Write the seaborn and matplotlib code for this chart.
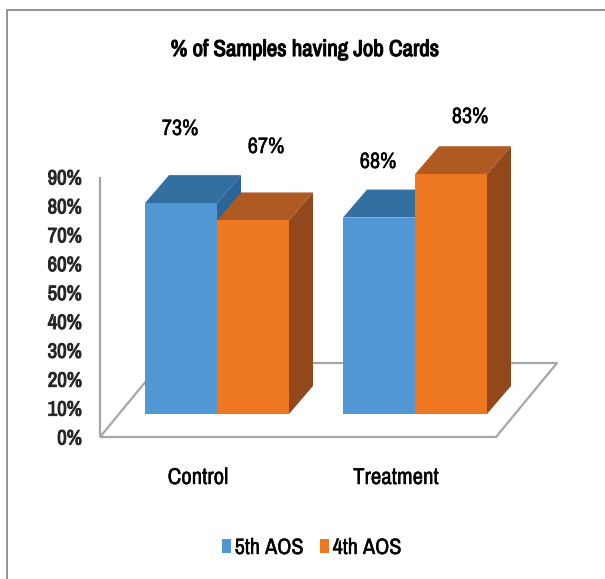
import matplotlib
matplotlib.use("Agg")
import matplotlib.pyplot as plt
import matplotlib.patheffects as pe
from matplotlib.patches import Polygon, Rectangle
from matplotlib.lines import Line2D
import pandas as pd
import seaborn as sns

groups = ["Control", "Treatment"]
series_names = ["5th AOS", "4th AOS"]
fifth_aos = [73, 68]
fourth_aos = [67, 83]
y_ticks = [0, 10, 20, 30, 40, 50, 60, 70, 80, 90]

front_colors = {"5th AOS": "#5197d3", "4th AOS": "#ee7721"}
top_colors = {"5th AOS": "#336f9f", "4th AOS": "#ae5a22"}
side_colors = {"5th AOS": "#2a6596", "4th AOS": "#93481c"}

W, H = 605, 579
sns.set_theme(style="white")
plt.rcParams["font.family"] = ["Archivo Narrow", "Liberation Sans", "DejaVu Sans"]


def weight(width, color="black"):
    """Outline that thickens the single-weight narrow face."""
    return [pe.withStroke(linewidth=width, foreground=color)]


table = pd.DataFrame({
    "group": groups * 2,
    "series": [series_names[0]] * 2 + [series_names[1]] * 2,
    "value": fifth_aos + fourth_aos,
})

fig = plt.figure(figsize=(W / 100, H / 100), dpi=100, facecolor="white")

# Plot area: the 0-90 % wall spans 260 px, one category spans 198 px
px_per_pct = 260 / 90
px_per_cat = 198
x0_px = 217
left_px = 100
right_px = 560
ax = fig.add_axes([left_px / W, 1 - 437 / H, (right_px - left_px) / W, 260 / H])
ax.patch.set_alpha(0)
ax.set_zorder(2)

# The floor sits 8 % in front of the wall, so bars start above the zero tick
lift = 23 / px_per_pct
depth_x = 24 / px_per_cat
depth_y = 28 / px_per_pct

sns.barplot(
    data=table, x="group", y="value", hue="series", order=groups,
    hue_order=series_names, palette=front_colors, width=72 * 2 / px_per_cat,
    gap=0, dodge=True, saturation=1, legend=False, bottom=lift, ax=ax,
    linewidth=0, zorder=3,
)
ax.set_xlim((left_px - x0_px) / px_per_cat, (right_px - x0_px) / px_per_cat)
ax.set_ylim(0, 90)
ax.set_xlabel("")
ax.set_ylabel("")

# Floor outline and wall edge, in data units
floor_dx = 61 / px_per_cat
floor_dy = 74 / px_per_pct
x_l, x_r = ax.get_xlim()
x_front_r = (496 - x0_px) / px_per_cat
line_kw = dict(color="#a6a6a6", lw=1.6, clip_on=False, zorder=1, solid_capstyle="butt")
ax.add_line(Line2D([x_l, x_l], [0, 90], **line_kw))
ax.add_line(Line2D([x_l, x_front_r, x_front_r + floor_dx, x_l + floor_dx, x_l],
                   [0, 0, floor_dy, floor_dy, 0], **line_kw))

# Extrude every bar into a box: top face, side face and its value label
label_nudge = {
    ("5th AOS", "Control"): (-1, 129),
    ("4th AOS", "Control"): (13, 147),
    ("5th AOS", "Treatment"): (-1, 162),
    ("4th AOS", "Treatment"): (19, 117),
}
for i, (name, vals) in enumerate(zip(series_names, (fifth_aos, fourth_aos))):
    for j, g in enumerate(groups):
        v = vals[j]
        bar = ax.containers[i][j]
        bar.set_clip_on(False)
        x1, x2 = bar.get_x(), bar.get_x() + bar.get_width()
        y1 = bar.get_y()
        y2 = y1 + bar.get_height()
        z = 2.5 if name == "5th AOS" else 2.8
        ax.add_patch(Polygon(
            [(x1, y2), (x1 + depth_x, y2 + depth_y), (x2 + depth_x, y2 + depth_y), (x2, y2)],
            closed=True, fc=top_colors[name], ec="none", zorder=z, clip_on=False))
        ax.add_patch(Polygon(
            [(x2, y1), (x2 + depth_x, y1 + depth_y), (x2 + depth_x, y2 + depth_y), (x2, y2)],
            closed=True, fc=side_colors[name], ec="none", zorder=z, clip_on=False))
        px = x0_px + (x1 + x2) / 2 * px_per_cat
        dx, ypx = label_nudge[(name, g)]
        fig.text((px + dx) / W, 1 - ypx / H, f"{v}%", ha="center", va="center",
                 fontsize=16, color="black", path_effects=weight(0.3))

# Axis ticks
ax.set_xticks([])
ax.set_yticks(y_ticks)
ax.set_yticklabels([f"{t}%" for t in y_ticks], fontsize=15, color="#262626",
                   path_effects=weight(0.7, "#262626"))
ax.tick_params(axis="y", length=0, pad=13)
sns.despine(ax=ax, left=True, bottom=True)

# Category names
for g, px in zip(groups, (198, 396)):
    fig.text(px / W, 1 - 478 / H, g, ha="center", va="center", fontsize=16.5,
             color="black", path_effects=weight(0.3))

# Outer frame, open to the right and the bottom of the figure
fig.add_artist(Rectangle((7 / W, -0.02), 1.02, 1 + 0.02 - 10 / H, transform=fig.transFigure,
                         fill=False, ec="#8c8c8c", lw=1.3))

fig.text(305 / W, 1 - 50 / H, "% of Samples having Job Cards", ha="center", va="center",
         fontsize=16.5, color="black", path_effects=weight(0.8))

# Legend
handles = [Rectangle((0, 0), 1, 1, fc=front_colors[n], ec="none") for n in series_names]
legend = fig.legend(handles, series_names, loc="center", bbox_to_anchor=(312 / W, 1 - 548 / H),
                    ncol=2, frameon=False, fontsize=16, handlelength=0.4, handleheight=0.55,
                    handletextpad=0.15, columnspacing=0.75, labelcolor="black")
for label in legend.get_texts():
    label.set_path_effects(weight(0.3))

fig.savefig("out.png", dpi=100)
